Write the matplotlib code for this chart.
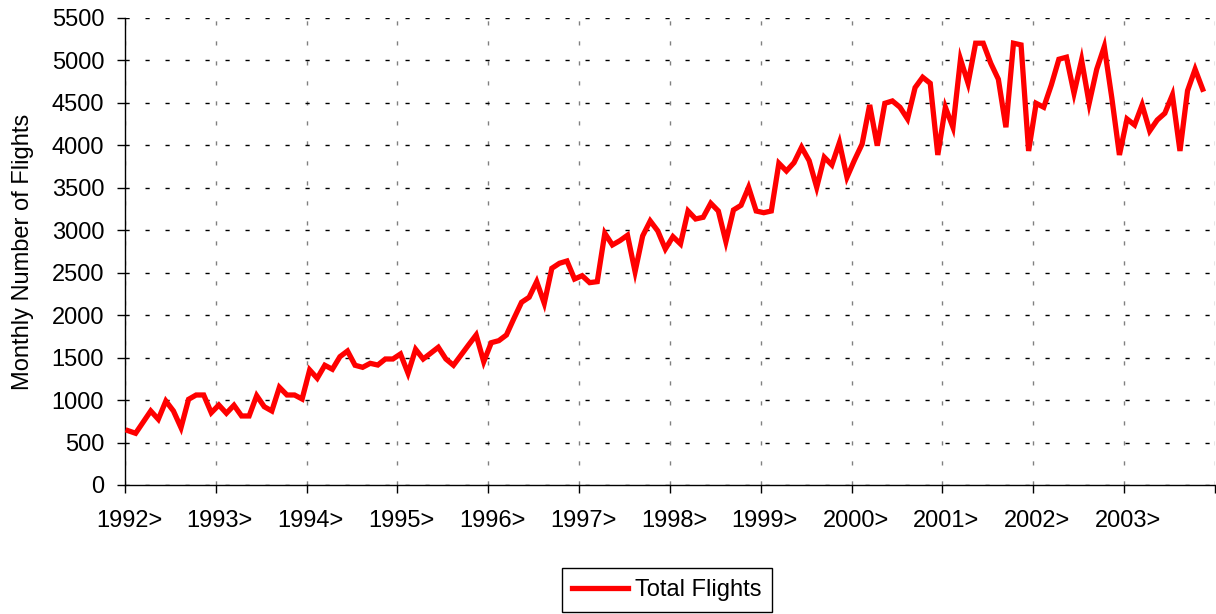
import numpy as np
import matplotlib
matplotlib.use("Agg")
import matplotlib.pyplot as plt
import matplotlib.transforms as mtransforms

# monthly flights (Jan 1992 .. Nov 2003)
flights_1992 = [640, 609, 740, 872, 774, 989, 872, 675, 1009, 1060, 1060, 851]
flights_1993 = [942, 845, 939, 813, 813, 1052, 922, 872, 1151, 1060, 1060, 1013]
flights_1994 = [1355, 1257, 1410, 1363, 1511, 1578, 1410, 1386, 1433, 1413, 1484, 1484]
flights_1995 = [1543, 1316, 1598, 1484, 1553, 1622, 1484, 1410, 1530, 1650, 1767, 1452]
flights_1996 = [1676, 1700, 1767, 1963, 2152, 2211, 2395, 2140, 2552, 2611, 2638, 2426]
flights_1997 = [2465, 2383, 2395, 2965, 2827, 2878, 2941, 2512, 2933, 3110, 2992, 2780]
flights_1998 = [2925, 2839, 3227, 3133, 3153, 3318, 3227, 2866, 3239, 3294, 3506, 3227]
flights_1999 = [3207, 3227, 3789, 3698, 3796, 3978, 3820, 3506, 3860, 3769, 4032, 3624]
flights_2000 = [3828, 4016, 4476, 3996, 4495, 4523, 4449, 4311, 4680, 4802, 4731, 3887]
flights_2001 = [4449, 4213, 5014, 4731, 5203, 5203, 4967, 4779, 4213, 5203, 5183, 3934]
flights_2002 = [4495, 4449, 4711, 5014, 5038, 4614, 5006, 4495, 4896, 5163, 4555, 3887]
flights_2003 = [4311, 4240, 4476, 4170, 4299, 4378, 4594, 3934, 4644, 4896, 4661]

years = list(range(1992, 2005))
year_labels = [str(y) + ">" for y in years[:-1]] + [""]
y_ticks = list(range(0, 5501, 500))

plt.rcParams['font.family'] = ['Liberation Sans', 'DejaVu Sans']
fs = 17

values = (flights_1992 + flights_1993 + flights_1994 + flights_1995 +
          flights_1996 + flights_1997 + flights_1998 + flights_1999 +
          flights_2000 + flights_2001 + flights_2002 + flights_2003)
months = np.arange(len(values))
x = 1992 + (months + 0.4) / 12.0

fig = plt.figure(figsize=(12.16, 6.14), dpi=100)
ax = fig.add_axes([0.1028, 0.2101, 0.8962, 0.7606])

line, = ax.plot(x, values, color='#ff0000', lw=3.8, solid_joinstyle='miter',
                label='Total Flights', zorder=3)

ax.set_xlim(1992, 2004)
ax.set_ylim(0, 5500)
ax.set_xticks(years)
ax.set_xticklabels(year_labels)
ax.set_yticks(y_ticks)

ax.grid(axis='y', color='black', lw=1, linestyle=(0, (3, 11.4)))
ax.grid(axis='x', color='#808080', lw=1, linestyle=(0, (3, 11.4)))
ax.set_axisbelow(True)

for side in ['top', 'right']:
    ax.spines[side].set_visible(False)
for side in ['left', 'bottom']:
    ax.spines[side].set_color('black')
    ax.spines[side].set_linewidth(1)

ax.tick_params(axis='both', labelsize=fs, direction='out', length=6,
               width=1, color='black')
ax.tick_params(axis='x', pad=12)
ax.tick_params(axis='y', pad=9)
ax.set_ylabel('Monthly Number of Flights', fontsize=fs, labelpad=12.5)

# year labels sit a few pixels right of their ticks in the original
shift = mtransforms.ScaledTranslation(4 / 100, 0, fig.dpi_scale_trans)
for lab in ax.get_xticklabels():
    lab.set_transform(lab.get_transform() + shift)

leg = fig.legend(handles=[line], loc='center',
                 bbox_to_anchor=(667 / 1216, 1 - 590 / 614),
                 fontsize=fs, handlelength=2.35, handletextpad=0.3,
                 fancybox=False, framealpha=1, edgecolor='black',
                 borderpad=0.45)
leg.get_frame().set_linewidth(1)

fig.savefig('out.png', dpi=100)
